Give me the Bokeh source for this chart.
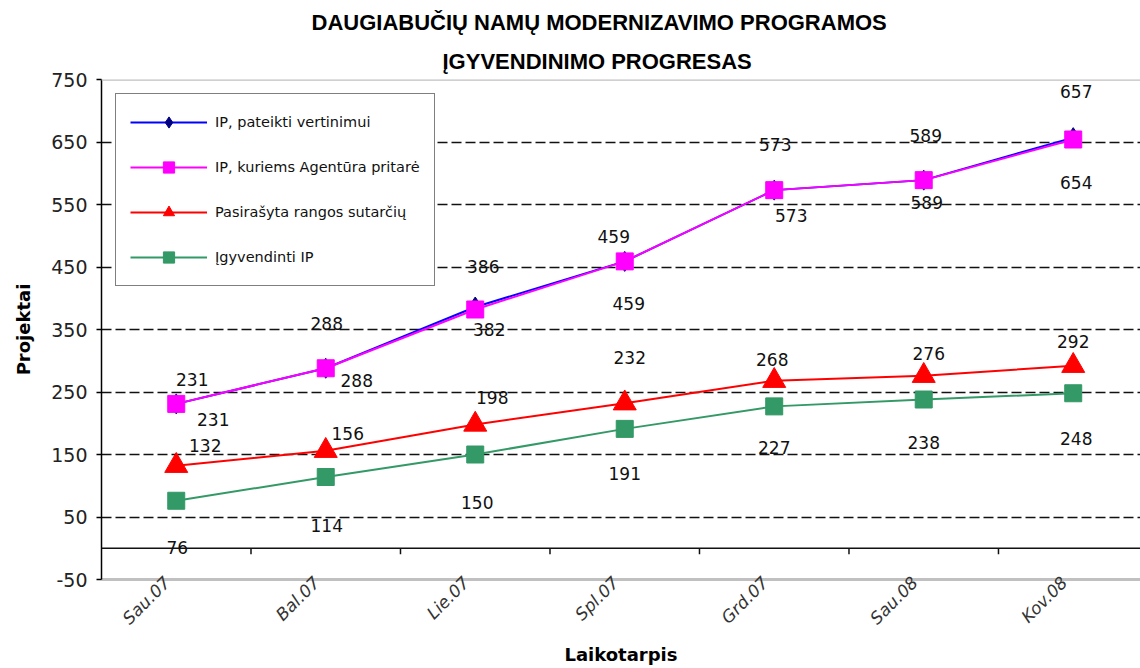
import math
from bokeh.plotting import figure
from bokeh.models import (Range1d, FixedTicker, Span, Legend, LegendItem, Title,
                          ColumnDataSource)
from bokeh.core.properties import value
from bokeh.embed import file_html
from bokeh.resources import INLINE

# ---- data ----
periods = ["Sau.07", "Bal.07", "Lie.07", "Spl.07", "Grd.07", "Sau.08", "Kov.08"]
submitted = [231, 288, 386, 459, 573, 589, 657]      # IP, pateikti vertinimui
approved = [231, 288, 382, 459, 573, 589, 654]       # IP, kuriems Agentūra pritarė
contracts = [132, 156, 198, 232, 268, 276, 292]      # Pasirašyta rangos sutarčių
implemented = [76, 114, 150, 191, 227, 238, 248]     # Įgyvendinti IP

y_tick_values = [-50, 50, 150, 250, 350, 450, 550, 650, 750]
grid_values = [50, 150, 250, 350, 450, 550, 650]

# ---- label placement (screen px offsets from each point) ----
sub_dx = [16, 1, 8, -11, 1, 2, 3]
sub_dy = [-24, -45, -41, -25, -46, -45, -46]
app_dx = [37, 31, 14, 4, 17, 3, 3]
app_dy = [16, 12, 20, 42, 25, 22, 43]
con_dx = [29, 22, 17, 5, -2, 5, 0]
con_dy = [-20, -17, -27, -46, -21, -22, -24]
imp_dx = [1, 1, 2, 0, 0, 0, 3]
imp_dy = [47, 48, 48, 45, 41, 43, 45]

xs = list(range(len(periods)))
label_shift = 0.06          # tick labels sit slightly left of category centre
tick_len = 9.5              # category tick length, in y units (~6 px)

p = figure(width=1140, height=668, output_backend="svg", toolbar_location=None,
           x_range=Range1d(-0.5, 6.45), y_range=Range1d(-50, 750),
           min_border_left=101, min_border_right=0, min_border_top=79,
           min_border_bottom=88, background_fill_color="white",
           border_fill_color="white")
p.outline_line_color = None

# titles (p.title is the outer one)
p.title.text = "DAUGIABUČIŲ NAMŲ MODERNIZAVIMO PROGRAMOS"
p.title.align = "left"
p.title.offset = 210
p.title.text_font = "Liberation Sans"
p.title.text_font_size = "22px"
p.title.text_font_style = "bold"
p.title.text_color = "black"
p.title.standoff = 11
p.add_layout(Title(text="ĮGYVENDINIMO PROGRESAS", align="left",
                   offset=341, text_font="Liberation Sans", text_font_size="22px",
                   text_font_style="bold", text_color="black", standoff=12), "above")

# y axis
p.yaxis.ticker = FixedTicker(ticks=y_tick_values)
p.yaxis.major_label_overrides = {v: str(v) for v in y_tick_values}
p.yaxis.axis_label = "Projektai"
p.yaxis.axis_label_text_font = "DejaVu Sans"
p.yaxis.axis_label_text_font_size = "18px"
p.yaxis.axis_label_text_font_style = "bold"
p.yaxis.axis_label_text_color = "black"
p.yaxis.axis_label_standoff = 14
p.yaxis.major_label_text_font = "DejaVu Sans"
p.yaxis.major_label_text_font_size = "19px"
p.yaxis.major_label_text_color = "#222222"
p.yaxis.major_label_standoff = 9
p.yaxis.axis_line_color = "black"
p.yaxis.axis_line_width = 1.5
p.yaxis.major_tick_line_color = "black"
p.yaxis.major_tick_line_width = 1.5
p.yaxis.major_tick_out = 5
p.yaxis.major_tick_in = 0
p.yaxis.minor_tick_line_color = None

# x axis (labels at the bottom of the plot area)
p.xaxis.ticker = FixedTicker(ticks=[x - label_shift for x in xs], minor_ticks=[])
p.xaxis.major_label_overrides = {x - label_shift: lab for x, lab in zip(xs, periods)}
p.xaxis.major_label_orientation = math.radians(45)
p.xaxis.major_label_text_font = "DejaVu Sans"
p.xaxis.major_label_text_font_size = "17px"
p.xaxis.major_label_text_font_style = "italic"
p.xaxis.major_label_text_color = "#333333"
p.xaxis.major_label_standoff = 0
p.xaxis.major_tick_out = 0
p.xaxis.major_tick_in = 0
p.xaxis.minor_tick_line_color = None
p.xaxis.axis_line_color = "#c0c0c0"
p.xaxis.axis_line_width = 3
p.xaxis.axis_label = "Laikotarpis"
p.xaxis.axis_label_text_font = "DejaVu Sans"
p.xaxis.axis_label_text_font_size = "18px"
p.xaxis.axis_label_text_font_style = "bold"
p.xaxis.axis_label_text_color = "black"
p.xaxis.axis_label_standoff = 6

# grid
p.xgrid.grid_line_color = None
p.ygrid.ticker = FixedTicker(ticks=grid_values)
p.ygrid.grid_line_color = "#111111"
p.ygrid.grid_line_width = 1.3
p.ygrid.grid_line_dash = "10 4"

p.add_layout(Span(location=750, dimension="width", line_color="#c0c0c0", line_width=2.5))
# category axis crossing at zero, with ticks between categories
p.add_layout(Span(location=0, dimension="width", line_color="#111111", line_width=1.5))
bounds = [i - 0.5 for i in range(1, len(periods) + 1)]
p.segment(x0=bounds, y0=[0] * len(bounds), x1=bounds, y1=[-tick_len] * len(bounds),
          line_color="#111111", line_width=1.5)

# series
series = [
    ("IP, pateikti vertinimui", submitted, "#0000ff", "#000080", "diamond", 20),
    ("IP, kuriems Agentūra pritarė", approved, "#ff00ff", "#ff00ff", "square", 17),
    ("Pasirašyta rangos sutarčių", contracts, "#ff0000", "#ff0000", "triangle", 23),
    ("Įgyvendinti IP", implemented, "#339966", "#339966", "square", 17),
]
items = []
for name, vals, lc, mc, mk, sz in series:
    src = ColumnDataSource(dict(x=xs, y=vals))
    r1 = p.line("x", "y", source=src, line_color=lc, line_width=2)
    r2 = p.scatter("x", "y", source=src, marker=mk, size=sz,
                   fill_color=mc, line_color=mc)
    items.append(LegendItem(label=name, renderers=[r1, r2]))

# data labels
for vals, dxs, dys in [(submitted, sub_dx, sub_dy), (approved, app_dx, app_dy),
                       (contracts, con_dx, con_dy), (implemented, imp_dx, imp_dy)]:
    src = ColumnDataSource(dict(x=xs, y=vals, t=[str(v) for v in vals], dx=dxs, dy=dys))
    p.text("x", "y", text="t", source=src, x_offset="dx", y_offset="dy",
           text_font=value("DejaVu Sans"), text_font_size="17px", text_color="#111111",
           text_align="center", text_baseline="middle")

legend = Legend(items=items, location="top_left", margin=14, padding=14,
                glyph_width=77, glyph_height=28, label_height=28, spacing=17,
                label_standoff=8, label_text_font="DejaVu Sans", label_text_font_size="14.5px",
                label_text_color="#111111", border_line_color="black", border_line_width=1.5,
                background_fill_color="white", background_fill_alpha=1.0)
p.add_layout(legend, "center")

open("out.html", "w").write(file_html(p, INLINE))
